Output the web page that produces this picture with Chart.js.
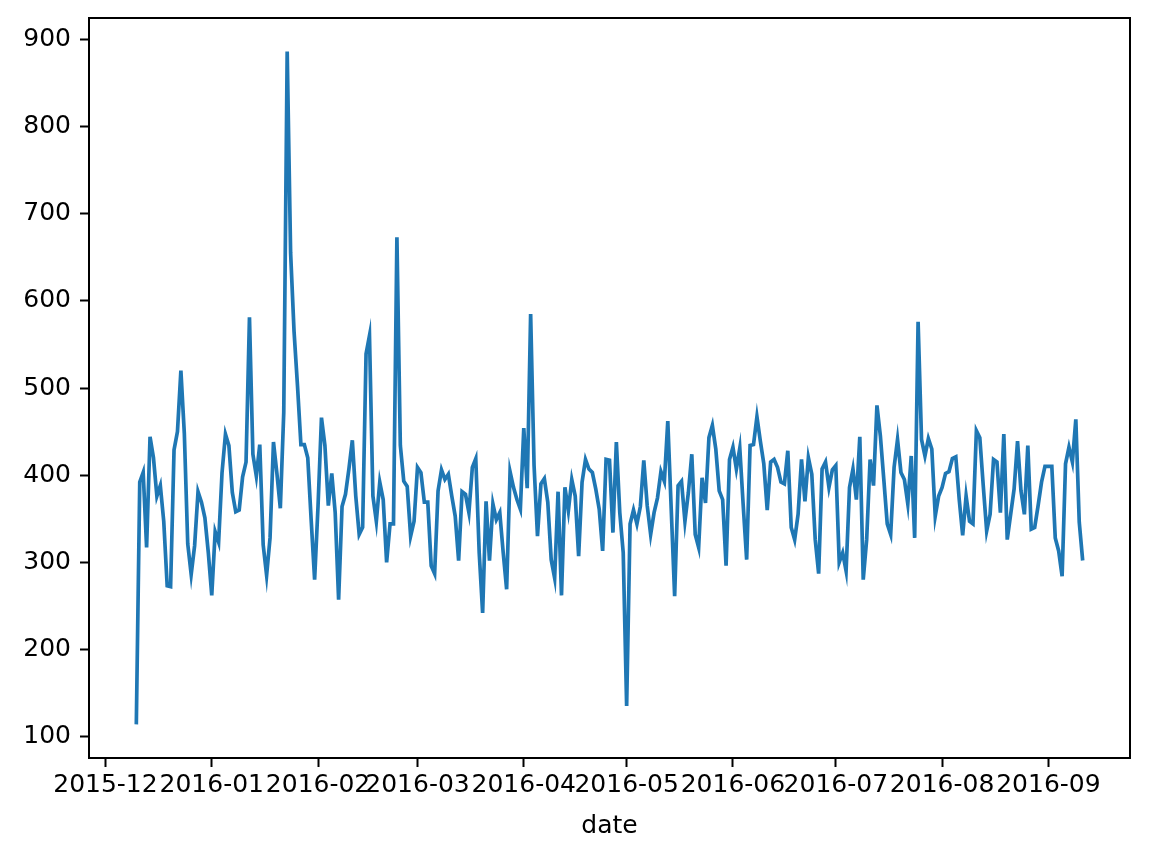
<!DOCTYPE html>
<html>
<head>
<meta charset="utf-8">
<script src="https://cdn.jsdelivr.net/npm/chart.js@4/dist/chart.umd.min.js"></script>
<style>
  html, body { margin: 0; padding: 0; background: #fff; }
</style>
</head>
<body>
<canvas id="myChart" width="1149" height="858"></canvas>
<script>
// daily series, first day below, one value per day
const startDate = '2015-12-10';
const values = [
  114, 392, 403, 317, 444, 420, 376, 388, 347, 273, 272, 429, 450, 520, 448, 321, 286, 319, 381, 369, 351, 311,
  262, 335, 323, 403, 447, 434, 380, 358, 360, 398, 415, 581, 424, 399, 435, 320, 285, 328, 438, 402, 362, 472,
  886, 655, 565, 503, 435, 435, 420, 348, 280,
  365, 466, 434, 365, 402, 357, 257, 364, 378, 407, 440, 376, 332, 340, 539, 560, 376, 347, 392, 372, 300, 344,
  344, 673, 434, 393, 387, 330, 347, 409,
  403, 369, 369, 296, 287, 382, 406, 395, 401, 376, 353, 302, 381, 378, 357, 409, 419, 311, 242, 370, 302, 367,
  349, 357, 311, 269, 404, 386,
  372, 361, 454, 385, 585, 411, 330, 390, 396, 369, 303, 282, 381, 262, 386, 359, 395, 376, 307, 392, 418, 407,
  403, 384, 361, 313, 418, 417,
  334, 438, 357, 311, 135, 344, 360, 344, 364, 417, 365, 332, 357, 374, 404, 393, 462, 361, 261, 388, 393, 347,
  380, 424, 332, 317, 397, 368,
  443, 457, 430, 382, 372, 296, 418, 432, 407, 431, 365, 303, 434, 435, 467, 439, 413, 360, 415, 418, 409, 392,
  390, 428, 340, 326, 355, 418,
  370, 420, 401, 326, 287, 407, 415, 386, 406, 411, 300, 311, 290, 386, 407, 372, 444, 280, 326, 418, 388, 480,
  445, 395, 344, 332, 409, 441,
  403, 395, 367, 422, 328, 576, 441, 422, 442, 430, 353, 376, 386, 402, 404, 419, 421, 372, 331, 376, 347, 344,
  451, 443, 388, 336, 355, 418,
  415, 357, 447, 326, 355, 384, 439, 382, 355, 434, 338, 340, 365, 392, 410, 410, 410, 328, 313, 284, 413, 432,
  415, 464, 346, 302
];
const tickLabels = ['2015-12', '2016-01', '2016-02', '2016-03', '2016-04', '2016-05', '2016-06', '2016-07', '2016-08', '2016-09'];
const yTicks = [100, 200, 300, 400, 500, 600, 700, 800, 900];

const DAY = 86400000;
function dayNum(str) {
  const p = str.split('-').map(Number);
  return Date.UTC(p[0], p[1] - 1, p[2] || 1) / DAY;
}

const first = dayNum(startDate);
const points = values.map((v, i) => ({ x: first + i, y: v }));
const tickPos = tickLabels.map(dayNum);

// matplotlib style 5% margins
const xLo = first, xHi = first + values.length - 1;
const yLo = Math.min(...values), yHi = Math.max(...values);
const xm = (xHi - xLo) * 0.05, ym = (yHi - yLo) * 0.05;

const font = { family: 'DejaVu Sans', size: 25 };

const frame = {
  id: 'frame',
  afterDraw(chart) {
    const { ctx, chartArea: a } = chart;
    ctx.save();
    ctx.strokeStyle = '#000';
    ctx.lineWidth = 2;
    ctx.strokeRect(a.left, a.top, a.right - a.left, a.bottom - a.top);
    ctx.restore();
  }
};

const ctx = document.getElementById('myChart');
new Chart(ctx, {
  type: 'line',
  data: {
    datasets: [{
      data: points,
      borderColor: '#1f77b4',
      borderWidth: 3.7,
      pointRadius: 0,
      tension: 0,
      fill: false
    }]
  },
  options: {
    responsive: false,
    animation: false,
    devicePixelRatio: 1,
    layout: { padding: { top: 18, right: 19, left: 0, bottom: 0 } },
    plugins: { legend: { display: false }, tooltip: { enabled: false } },
    scales: {
      x: {
        type: 'linear',
        min: xLo - xm,
        max: xHi + xm,
        afterBuildTicks: (scale) => { scale.ticks = tickPos.map(v => ({ value: v })); },
        afterFit: (scale) => { scale.height = 100; scale.paddingLeft = 0; scale.paddingRight = 0; },
        ticks: {
          autoSkip: false,
          maxRotation: 0,
          minRotation: 0,
          padding: 3,
          color: '#000',
          font: font,
          callback: (v) => tickLabels[tickPos.indexOf(v)]
        },
        grid: { drawOnChartArea: false, tickLength: 9, tickWidth: 2, tickColor: '#000' },
        border: { color: '#000', width: 2 },
        title: { display: true, text: 'date', color: '#000', font: font, padding: { top: 4, bottom: 17 } }
      },
      y: {
        type: 'linear',
        min: yLo - ym,
        max: yHi + ym,
        afterBuildTicks: (scale) => { scale.ticks = yTicks.map(v => ({ value: v })); },
        afterFit: (scale) => { scale.width = 89; scale.paddingTop = 0; scale.paddingBottom = 0; },
        ticks: { padding: 9, color: '#000', font: font },
        grid: { drawOnChartArea: false, tickLength: 9, tickWidth: 2, tickColor: '#000' },
        border: { color: '#000', width: 2 }
      }
    }
  },
  plugins: [frame]
});
</script>
</body>
</html>
